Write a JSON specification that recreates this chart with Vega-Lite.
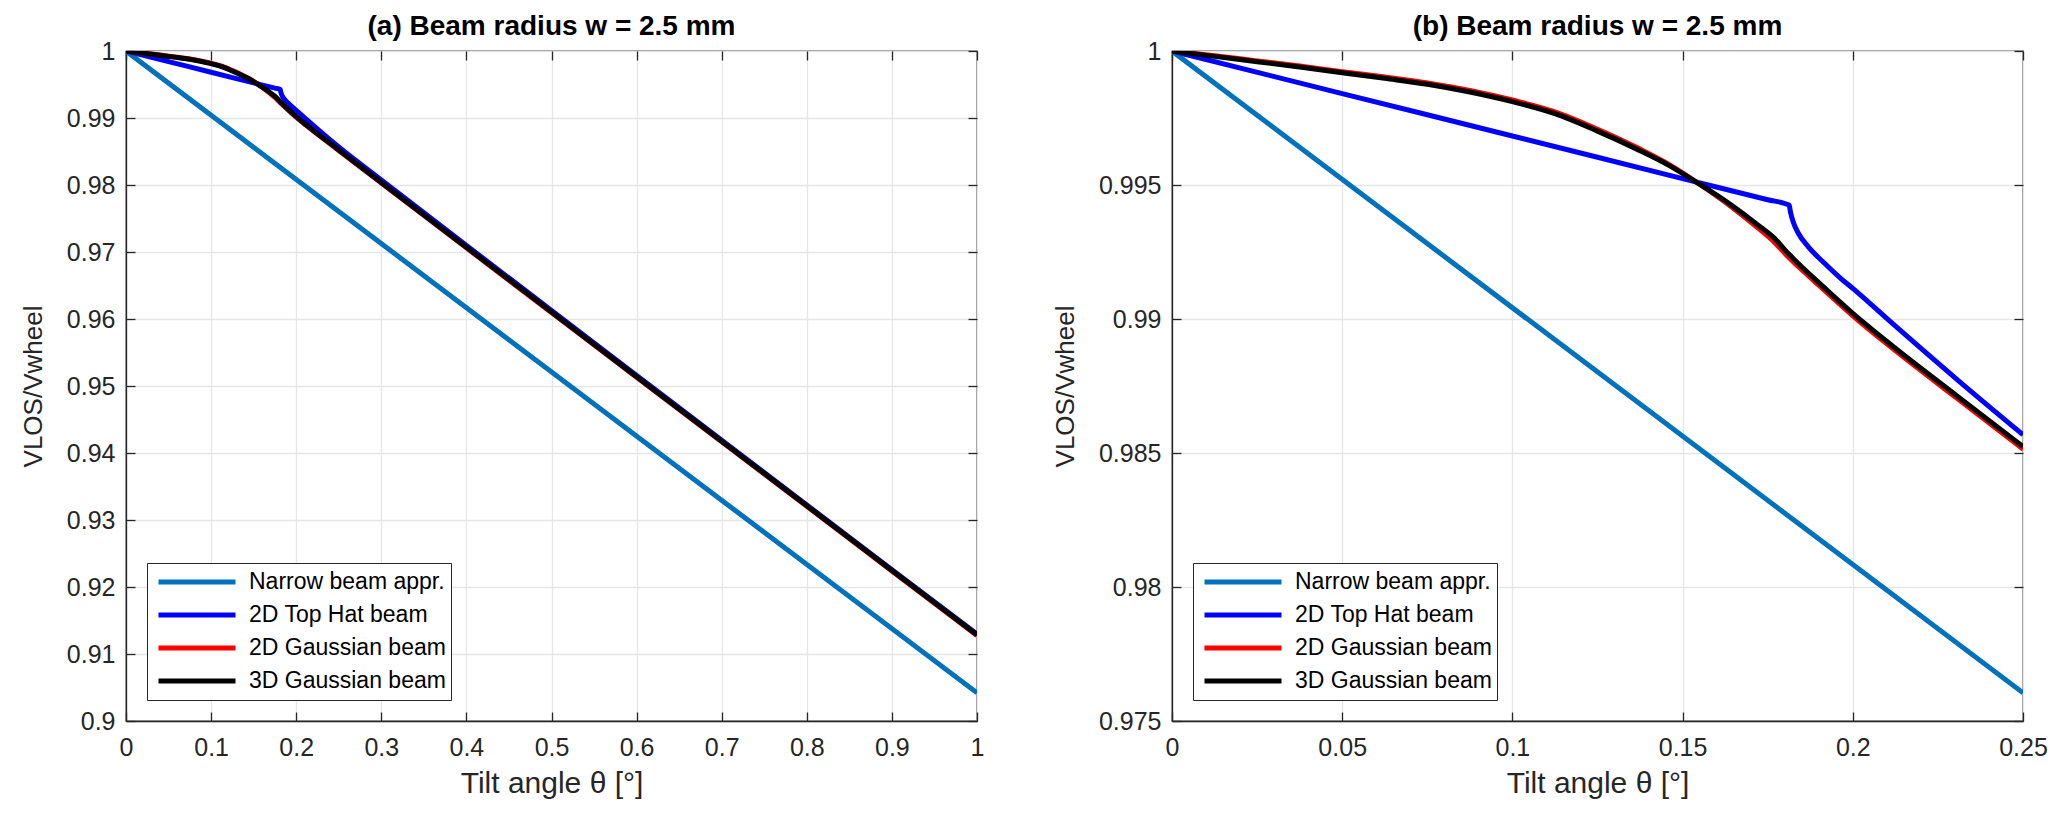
{
  "$schema": "https://vega.github.io/schema/vega-lite/v6.json",
  "description": "Normalised LOS velocity against tilt angle for four beam models, full range and zoomed.",
  "background": "white",
  "padding": {"left": 19, "top": 12, "right": 10, "bottom": 5},
  "data": {
    "values": [
      {"beam": "Narrow beam appr.", "theta": 0, "ratio": 1},
      {"beam": "Narrow beam appr.", "theta": 0.25, "ratio": 0.97605},
      {"beam": "Narrow beam appr.", "theta": 1, "ratio": 0.9042},

      {"beam": "2D Top Hat beam", "theta": 0, "ratio": 1},
      {"beam": "2D Top Hat beam", "theta": 0.05, "ratio": 0.99841},
      {"beam": "2D Top Hat beam", "theta": 0.1, "ratio": 0.99683},
      {"beam": "2D Top Hat beam", "theta": 0.15, "ratio": 0.99524},
      {"beam": "2D Top Hat beam", "theta": 0.175, "ratio": 0.99445},
      {"beam": "2D Top Hat beam", "theta": 0.1813, "ratio": 0.99425},
      {"beam": "2D Top Hat beam", "theta": 0.1817, "ratio": 0.99398},
      {"beam": "2D Top Hat beam", "theta": 0.1825, "ratio": 0.99362},
      {"beam": "2D Top Hat beam", "theta": 0.184, "ratio": 0.9932},
      {"beam": "2D Top Hat beam", "theta": 0.187, "ratio": 0.99268},
      {"beam": "2D Top Hat beam", "theta": 0.1917, "ratio": 0.99208},
      {"beam": "2D Top Hat beam", "theta": 0.1966, "ratio": 0.9915},
      {"beam": "2D Top Hat beam", "theta": 0.2, "ratio": 0.99114},
      {"beam": "2D Top Hat beam", "theta": 0.2113, "ratio": 0.98987},
      {"beam": "2D Top Hat beam", "theta": 0.2309, "ratio": 0.98771},
      {"beam": "2D Top Hat beam", "theta": 0.25, "ratio": 0.98568},
      {"beam": "2D Top Hat beam", "theta": 0.3, "ratio": 0.98075},
      {"beam": "2D Top Hat beam", "theta": 0.4, "ratio": 0.97098},
      {"beam": "2D Top Hat beam", "theta": 0.5, "ratio": 0.96126},
      {"beam": "2D Top Hat beam", "theta": 0.6, "ratio": 0.95158},
      {"beam": "2D Top Hat beam", "theta": 0.7, "ratio": 0.9419},
      {"beam": "2D Top Hat beam", "theta": 0.8, "ratio": 0.93224},
      {"beam": "2D Top Hat beam", "theta": 0.9, "ratio": 0.92259},
      {"beam": "2D Top Hat beam", "theta": 1, "ratio": 0.91296},

      {"beam": "2D Gaussian beam", "theta": 0, "ratio": 1},
      {"beam": "2D Gaussian beam", "theta": 0.0125, "ratio": 0.99982},
      {"beam": "2D Gaussian beam", "theta": 0.025, "ratio": 0.99963},
      {"beam": "2D Gaussian beam", "theta": 0.0375, "ratio": 0.99944},
      {"beam": "2D Gaussian beam", "theta": 0.05, "ratio": 0.99923},
      {"beam": "2D Gaussian beam", "theta": 0.0625, "ratio": 0.99903},
      {"beam": "2D Gaussian beam", "theta": 0.075, "ratio": 0.99881},
      {"beam": "2D Gaussian beam", "theta": 0.0875, "ratio": 0.99853},
      {"beam": "2D Gaussian beam", "theta": 0.1, "ratio": 0.99817},
      {"beam": "2D Gaussian beam", "theta": 0.1125, "ratio": 0.99773},
      {"beam": "2D Gaussian beam", "theta": 0.125, "ratio": 0.99708},
      {"beam": "2D Gaussian beam", "theta": 0.1375, "ratio": 0.99634},
      {"beam": "2D Gaussian beam", "theta": 0.1457, "ratio": 0.99579},
      {"beam": "2D Gaussian beam", "theta": 0.155, "ratio": 0.99503},
      {"beam": "2D Gaussian beam", "theta": 0.1643, "ratio": 0.99419},
      {"beam": "2D Gaussian beam", "theta": 0.1721, "ratio": 0.9934},
      {"beam": "2D Gaussian beam", "theta": 0.177, "ratio": 0.99286},
      {"beam": "2D Gaussian beam", "theta": 0.181, "ratio": 0.99232},
      {"beam": "2D Gaussian beam", "theta": 0.1839, "ratio": 0.99197},
      {"beam": "2D Gaussian beam", "theta": 0.19, "ratio": 0.99126},
      {"beam": "2D Gaussian beam", "theta": 0.2, "ratio": 0.99012},
      {"beam": "2D Gaussian beam", "theta": 0.2113, "ratio": 0.98894},
      {"beam": "2D Gaussian beam", "theta": 0.2309, "ratio": 0.98701},
      {"beam": "2D Gaussian beam", "theta": 0.25, "ratio": 0.98515},
      {"beam": "2D Gaussian beam", "theta": 0.3, "ratio": 0.9803},
      {"beam": "2D Gaussian beam", "theta": 0.4, "ratio": 0.97062},
      {"beam": "2D Gaussian beam", "theta": 0.5, "ratio": 0.96096},
      {"beam": "2D Gaussian beam", "theta": 0.6, "ratio": 0.95131},
      {"beam": "2D Gaussian beam", "theta": 0.7, "ratio": 0.94167},
      {"beam": "2D Gaussian beam", "theta": 0.8, "ratio": 0.93204},
      {"beam": "2D Gaussian beam", "theta": 0.9, "ratio": 0.9224},
      {"beam": "2D Gaussian beam", "theta": 1, "ratio": 0.91276},

      {"beam": "3D Gaussian beam", "theta": 0, "ratio": 1},
      {"beam": "3D Gaussian beam", "theta": 0.0125, "ratio": 0.9998},
      {"beam": "3D Gaussian beam", "theta": 0.025, "ratio": 0.9996},
      {"beam": "3D Gaussian beam", "theta": 0.0375, "ratio": 0.9994},
      {"beam": "3D Gaussian beam", "theta": 0.05, "ratio": 0.99919},
      {"beam": "3D Gaussian beam", "theta": 0.0625, "ratio": 0.99898},
      {"beam": "3D Gaussian beam", "theta": 0.075, "ratio": 0.99876},
      {"beam": "3D Gaussian beam", "theta": 0.0875, "ratio": 0.99847},
      {"beam": "3D Gaussian beam", "theta": 0.1, "ratio": 0.99811},
      {"beam": "3D Gaussian beam", "theta": 0.1125, "ratio": 0.99766},
      {"beam": "3D Gaussian beam", "theta": 0.125, "ratio": 0.99701},
      {"beam": "3D Gaussian beam", "theta": 0.1375, "ratio": 0.99628},
      {"beam": "3D Gaussian beam", "theta": 0.1457, "ratio": 0.99575},
      {"beam": "3D Gaussian beam", "theta": 0.155, "ratio": 0.99503},
      {"beam": "3D Gaussian beam", "theta": 0.1643, "ratio": 0.99425},
      {"beam": "3D Gaussian beam", "theta": 0.1721, "ratio": 0.99351},
      {"beam": "3D Gaussian beam", "theta": 0.177, "ratio": 0.99301},
      {"beam": "3D Gaussian beam", "theta": 0.181, "ratio": 0.99245},
      {"beam": "3D Gaussian beam", "theta": 0.1839, "ratio": 0.99208},
      {"beam": "3D Gaussian beam", "theta": 0.19, "ratio": 0.99136},
      {"beam": "3D Gaussian beam", "theta": 0.2, "ratio": 0.99021},
      {"beam": "3D Gaussian beam", "theta": 0.2113, "ratio": 0.98903},
      {"beam": "3D Gaussian beam", "theta": 0.2309, "ratio": 0.9871},
      {"beam": "3D Gaussian beam", "theta": 0.25, "ratio": 0.98524},
      {"beam": "3D Gaussian beam", "theta": 0.3, "ratio": 0.98038},
      {"beam": "3D Gaussian beam", "theta": 0.4, "ratio": 0.9707},
      {"beam": "3D Gaussian beam", "theta": 0.5, "ratio": 0.96104},
      {"beam": "3D Gaussian beam", "theta": 0.6, "ratio": 0.95139},
      {"beam": "3D Gaussian beam", "theta": 0.7, "ratio": 0.94175},
      {"beam": "3D Gaussian beam", "theta": 0.8, "ratio": 0.93212},
      {"beam": "3D Gaussian beam", "theta": 0.9, "ratio": 0.92248},
      {"beam": "3D Gaussian beam", "theta": 1, "ratio": 0.91284}
    ]
  },
  "spacing": 195,
  "bounds": "flush",
  "hconcat": [
    {
      "width": 851,
      "height": 670,
      "title": {"text": "(a) Beam radius w = 2.5 mm"},
      "layer": [
        {
          "mark": {"type": "line", "strokeWidth": 5, "interpolate": "monotone", "clip": true},
          "encoding": {
            "x": {
              "field": "theta", "type": "quantitative",
              "scale": {"domain": [0, 1], "nice": false, "zero": false},
              "axis": {"title": "Tilt angle θ [°]", "values": [0, 0.1, 0.2, 0.3, 0.4, 0.5, 0.6, 0.7, 0.8, 0.9, 1], "format": "~g", "labelPadding": 23}
            },
            "y": {
              "field": "ratio", "type": "quantitative",
              "scale": {"domain": [0.9, 1], "nice": false, "zero": false},
              "axis": {"title": "VLOS/Vwheel", "values": [0.9, 0.91, 0.92, 0.93, 0.94, 0.95, 0.96, 0.97, 0.98, 0.99, 1], "format": "~g", "labelPadding": 20}
            },
            "color": {
              "field": "beam", "type": "nominal",
              "scale": {
                "domain": ["Narrow beam appr.", "2D Top Hat beam", "2D Gaussian beam", "3D Gaussian beam"],
                "range": ["#0072BD", "#0000FF", "#FF0000", "#000000"]
              },
              "legend": {"orient": "bottom-left", "offset": 21}
            }
          }
        },
        {
          "mark": {"type": "point", "opacity": 0},
          "encoding": {
            "x": {"field": "theta", "type": "quantitative", "axis": {"orient": "top", "labels": false, "title": null, "grid": false, "domain": false, "values": [0, 0.1, 0.2, 0.3, 0.4, 0.5, 0.6, 0.7, 0.8, 0.9, 1]}},
            "y": {"field": "ratio", "type": "quantitative", "axis": {"orient": "right", "labels": false, "title": null, "grid": false, "domain": false, "values": [0.9, 0.91, 0.92, 0.93, 0.94, 0.95, 0.96, 0.97, 0.98, 0.99, 1]}}
          }
        }
      ],
      "resolve": {"axis": {"x": "independent", "y": "independent"}}
    },
    {
      "width": 851,
      "height": 670,
      "title": {"text": "(b) Beam radius w = 2.5 mm"},
      "transform": [{"filter": "datum.theta <= 0.25"}],
      "layer": [
        {
          "mark": {"type": "line", "strokeWidth": 5, "interpolate": "monotone", "clip": true},
          "encoding": {
            "x": {
              "field": "theta", "type": "quantitative",
              "scale": {"domain": [0, 0.25], "nice": false, "zero": false},
              "axis": {"title": "Tilt angle θ [°]", "values": [0, 0.05, 0.1, 0.15, 0.2, 0.25], "format": "~g", "labelPadding": 23}
            },
            "y": {
              "field": "ratio", "type": "quantitative",
              "scale": {"domain": [0.975, 1], "nice": false, "zero": false},
              "axis": {"title": "VLOS/Vwheel", "values": [0.975, 0.98, 0.985, 0.99, 0.995, 1], "format": "~g", "labelPadding": 20}
            },
            "color": {
              "field": "beam", "type": "nominal",
              "scale": {
                "domain": ["Narrow beam appr.", "2D Top Hat beam", "2D Gaussian beam", "3D Gaussian beam"],
                "range": ["#0072BD", "#0000FF", "#FF0000", "#000000"]
              },
              "legend": {"orient": "bottom-left", "offset": 21}
            }
          }
        },
        {
          "mark": {"type": "point", "opacity": 0},
          "encoding": {
            "x": {"field": "theta", "type": "quantitative", "axis": {"orient": "top", "labels": false, "title": null, "grid": false, "domain": false, "values": [0, 0.05, 0.1, 0.15, 0.2, 0.25]}},
            "y": {"field": "ratio", "type": "quantitative", "axis": {"orient": "right", "labels": false, "title": null, "grid": false, "domain": false, "values": [0.975, 0.98, 0.985, 0.99, 0.995, 1]}}
          }
        }
      ],
      "resolve": {"axis": {"x": "independent", "y": "independent"}}
    }
  ],
  "resolve": {"scale": {"color": "independent"}, "legend": {"color": "independent"}},
  "config": {
    "font": "Liberation Sans",
    "view": {"stroke": "#262626", "strokeWidth": 1.3},
    "axis": {
      "labelFontSize": 25,
      "labelColor": "#262626",
      "titleFontSize": 30,
      "titleFontWeight": "normal",
      "titleColor": "#262626",
      "domainColor": "#262626",
      "domainWidth": 1.3,
      "tickColor": "#262626",
      "tickWidth": 1.3,
      "tickSize": -9,
      "gridColor": "#e6e6e6",
      "gridWidth": 1.3,
      "labelFlush": false,
      "labelOverlap": false,
      "labelBound": false
    },
    "axisX": {"titlePadding": 8},
    "axisY": {"titlePadding": 20, "titleFontSize": 26},
    "title": {"fontSize": 28, "fontWeight": "bold", "color": "#000000", "anchor": "middle", "offset": -2},
    "legend": {
      "title": null,
      "symbolType": "stroke",
      "symbolSize": 5929,
      "symbolStrokeWidth": 5,
      "symbolOffset": 4,
      "clipHeight": 28,
      "labelFontSize": 23,
      "labelLimit": 400,
      "labelColor": "#000000",
      "labelOffset": 11,
      "rowPadding": 5,
      "padding": 5,
      "strokeColor": "#262626",
      "fillColor": "#ffffff"
    }
  }
}
